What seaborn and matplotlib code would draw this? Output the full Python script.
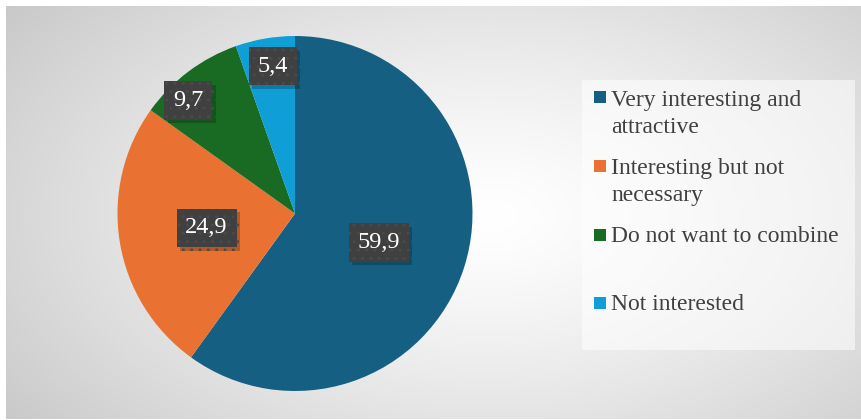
import numpy as np
import matplotlib
matplotlib.use("Agg")
import matplotlib.pyplot as plt
import matplotlib.patheffects as pe
from matplotlib.patches import Rectangle
import seaborn as sns

# ---- data ----
categories = ["Very interesting and\nattractive", "Interesting but not\nnecessary",
              "Do not want to combine", "Not interested"]
values = [59.9, 24.9, 9.7, 5.4]
value_labels = ["59,9", "24,9", "9,7", "5,4"]
colors = ["#156082", "#E97132", "#196B24", "#0F9ED5"]

# label placement styling (radial distance, angular nudge in degrees)
label_dist = [0.50, 0.505, 0.875, 0.84]
label_nudge = [-1.0, 0.0, 6.4, -1.2]

sns.set_theme(style="white")
plt.rcParams["font.family"] = ["Liberation Serif", "DejaVu Serif"]
plt.rcParams["hatch.linewidth"] = 1.0

W, H = 861, 420
fig = plt.figure(figsize=(W / 100, H / 100), dpi=100)
fig.patch.set_facecolor("white")

# ---- radial gradient background ----
x0, y0, x1, y1 = 6, 6, 861, 419
bg = fig.add_axes([x0 / W, 1 - y1 / H, (x1 - x0) / W, (y1 - y0) / H], zorder=-5)
gx = np.arange(x0, x1)
gy = np.arange(y0, y1)
XX, YY = np.meshgrid(gx, gy)
cx, cy, rx, ry = 490, 215, 520, 300
d = np.sqrt(((XX - cx) / rx) ** 2 + ((YY - cy) / ry) ** 2)
d = np.clip(d, 0, 1.15)
val = 1 - 0.21 * (d / 1.15) ** 1.3
img = np.dstack([val, val, val])
bg.imshow(img, aspect="auto", interpolation="bilinear")
bg.set_axis_off()

# ---- pie ----
pcx, pcy, r = 295, 213.5, 177.5
ax = fig.add_axes([(pcx - r) / W, 1 - (pcy + r) / H, 2 * r / W, 2 * r / H])
wedges, _ = ax.pie(values, colors=colors, startangle=90, counterclock=False,
                   radius=1, wedgeprops=dict(linewidth=0))
ax.set_xlim(-1, 1)
ax.set_ylim(-1, 1)
ax.set_aspect("equal")
ax.set_axis_off()
ax.patch.set_alpha(0)

for w, lab, dist, nud in zip(wedges, value_labels, label_dist, label_nudge):
    ang = np.deg2rad((w.theta1 + w.theta2) / 2 + nud)
    tx, ty = dist * np.cos(ang), dist * np.sin(ang)
    t = ax.text(tx, ty, lab, ha="center", va="center", fontsize=17.5, color="white",
                zorder=5,
                bbox=dict(boxstyle="square,pad=0.36", facecolor="#404040",
                          edgecolor="#4a4a4a", linewidth=0, hatch=".."))
    t.get_bbox_patch().set_path_effects(
        [pe.SimplePatchShadow(offset=(2.5, -2.5), shadow_rgbFace="black", alpha=0.22),
         pe.Normal()])

# ---- legend (drawn as figure artists) ----
def fx(x):
    return x / W


def fy(y):
    return 1 - y / H


lx0, ly0, lx1, ly1 = 582, 80, 855, 350
fig.patches.append(Rectangle((fx(lx0), fy(ly1)), fx(lx1) - fx(lx0), fy(ly0) - fy(ly1),
                             transform=fig.transFigure, facecolor="white", alpha=0.55,
                             edgecolor="none", zorder=1))
marker_y = [96.7, 166, 235, 302.7]
baseline_y = [105, 173.3, 241.7, 310]
line_step = 27.7
msz = 12
for lab, col, my, by in zip(categories, colors, marker_y, baseline_y):
    fig.patches.append(Rectangle((fx(594), fy(my + msz / 2)), msz / W, msz / H,
                                 transform=fig.transFigure, facecolor=col,
                                 edgecolor="none", zorder=2))
    nlines = lab.count("\n")
    fig.text(fx(611), fy(by + nlines * line_step), lab, ha="left", va="baseline",
             fontsize=17, color="#404040", linespacing=1.36, zorder=3)

fig.savefig("out.png", dpi=100)
